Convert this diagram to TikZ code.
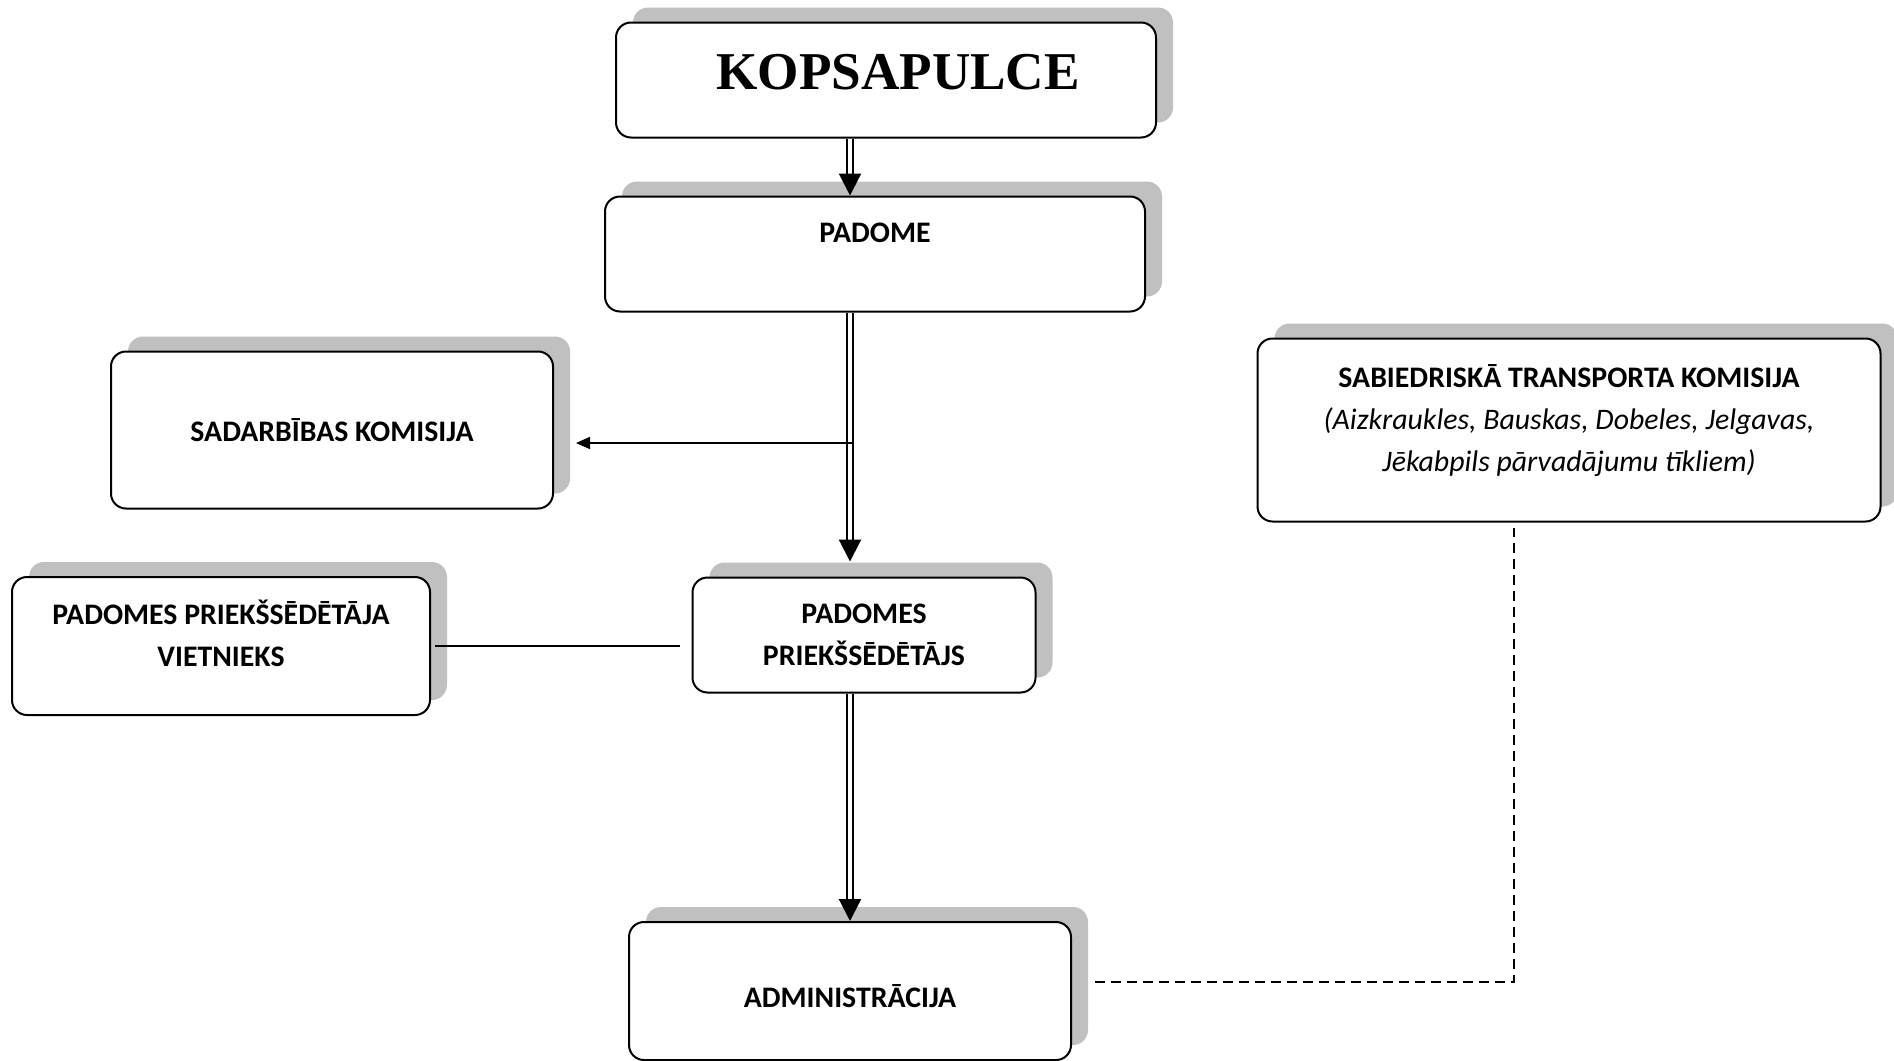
\documentclass[tikz,border=0pt]{standalone}
\usepackage{fontspec}
\setmainfont{Carlito}
\newfontfamily\timesfont{Liberation Serif}
\usetikzlibrary{arrows.meta,shadows}
\definecolor{ena}{HTML}{C0C0C0}
\tikzset{
  kaste/.style={draw,line width=1pt,rounded corners=7.5pt,fill=white,align=center,
    font=\fontsize{14.9}{21}\selectfont\bfseries,
    drop shadow={shadow xshift=8.5pt,shadow yshift=7.5pt,fill=ena,opacity=1}},
  dubult/.style={double,line width=1.1pt,double distance=1.7pt,-{Triangle[length=11pt,width=11pt]}},
  bulta/.style={line width=0.8pt,-{Triangle[length=7pt,width=6pt]}},
}
\begin{document}
\begin{tikzpicture}[x=0.5pt,y=-0.5pt]
\useasboundingbox (0,0) rectangle (1894,1060);
%Kastes
\node[kaste,minimum width=270pt,minimum height=57.5pt,text depth=8.5pt,font=\timesfont\fontsize{26.6}{30}\selectfont\bfseries] (kop) at (886,80) {\hspace{12pt}KOPSAPULCE};
\node[kaste,minimum width=270pt,minimum height=57.5pt] (padome) at (875,254) {PADOME\\ \phantom{P}};
\node[kaste,minimum width=221pt,minimum height=78.5pt] (sadarb) at (332,430) {SADARBĪBAS KOMISIJA};
\node[kaste,minimum width=209pt,minimum height=69pt] (vietn) at (221,646) {PADOMES PRIEKŠSĒDĒTĀJA\\VIETNIEKS\\[-8pt]\phantom{P}};
\node[kaste,minimum width=171.5pt,minimum height=57.5pt] (priekss) at (864,635) {PADOMES\\PRIEKŠSĒDĒTĀJS};
\node[kaste,minimum width=311.5pt,minimum height=91.5pt] (transp) at (1569,430) {SABIEDRISKĀ TRANSPORTA KOMISIJA\\
  \mdseries\itshape (Aizkraukles, Bauskas, Dobeles, Jelgavas,\\
  \mdseries\itshape Jēkabpils pārvadājumu tīkliem)\\[-11.3pt]\phantom{(}};
\node[kaste,minimum width=221pt,minimum height=69pt,text height=16.3pt,text depth=0pt] (admin) at (850,991) {ADMINISTRĀCIJA};

%Savienojumi
\coordinate (ass) at (850,0);
\coordinate (zars) at (853,443);
\draw[dubult] (kop.south -| ass) -- (padome.north -| ass);
\draw[dubult] (padome.south -| ass) -- ([yshift=7.5pt]priekss.north -| ass);
\draw[dubult] (priekss.south -| ass) -- (admin.north -| ass);
\draw[bulta] (zars) -- ([xshift=11pt]sadarb.east |- zars);
\draw[line width=0.8pt] ([xshift=-6pt]priekss.west |- vietn.east) -- ([xshift=2pt]vietn.east);
\draw[line width=0.7pt,dash pattern=on 5pt off 3pt] ([xshift=11.5pt,yshift=4.5pt]admin.east) -| ([xshift=-27.5pt,yshift=-2.5pt]transp.south);
\end{tikzpicture}
\end{document}
